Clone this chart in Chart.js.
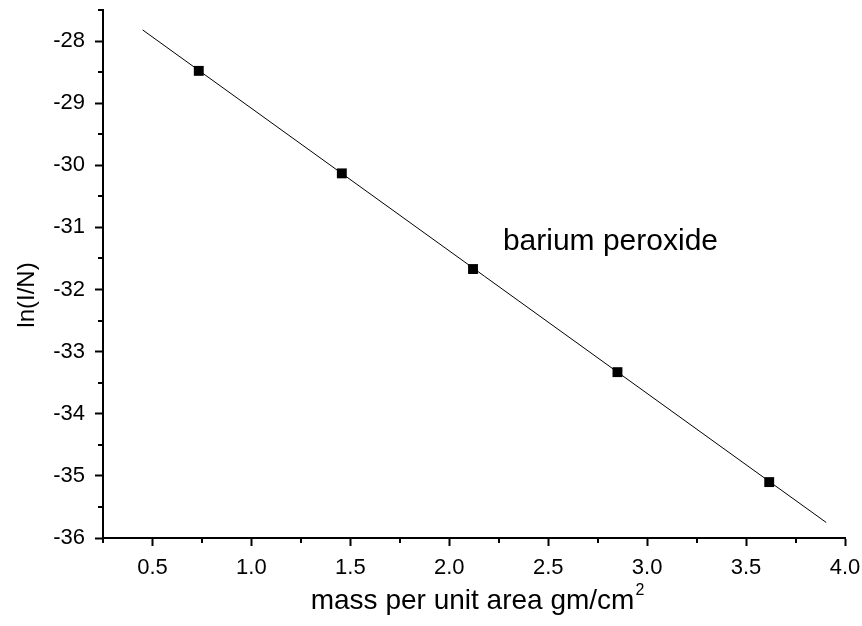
<!DOCTYPE html>
<html>
<head>
<meta charset="utf-8">
<script src="https://cdn.jsdelivr.net/npm/chart.js@4"></script>
<style>
  html, body { margin: 0; padding: 0; background: #fff; }
  canvas { display: block; }
</style>
</head>
<body>
<canvas id="chart" width="862" height="626"></canvas>
<script>
// Data
const massValues = [0.734, 1.457, 2.12, 2.85, 3.617];
const lnValues = [-28.48, -30.13, -31.67, -33.33, -35.10];
const fitX = [0.45, 3.905];
const fitY = [-27.82, -35.75];

// Ticks
const xTicks = [0.5, 1.0, 1.5, 2.0, 2.5, 3.0, 3.5, 4.0];
const xMinor = [0.25, 0.75, 1.25, 1.75, 2.25, 2.75, 3.25, 3.75];
const yTicks = [-36, -35, -34, -33, -32, -31, -30, -29, -28];
const yMinor = [-35.5, -34.5, -33.5, -32.5, -31.5, -30.5, -29.5, -28.5, -27.5];

const seriesLabel = 'barium peroxide';
const xTitle = 'mass per unit area gm/cm';
const yTitle = 'ln(I/N)';

const FONT = 'Liberation Sans, Arial, sans-serif';

// minor ticks, label and axis titles
const extras = {
    id: 'extras',
    afterDraw(chart) {
        const ctx = chart.ctx;
        const xs = chart.scales.x, ys = chart.scales.y;
        const area = chart.chartArea;
        ctx.save();
        ctx.strokeStyle = '#000';
        ctx.lineWidth = 2;
        ctx.beginPath();
        xMinor.forEach(v => {
            const px = Math.round(xs.getPixelForValue(v));
            ctx.moveTo(px, area.bottom);
            ctx.lineTo(px, area.bottom + 5);
        });
        yMinor.forEach(v => {
            const py = Math.round(ys.getPixelForValue(v));
            ctx.moveTo(area.left, py);
            ctx.lineTo(area.left - 5, py);
        });
        ctx.stroke();

        ctx.fillStyle = '#000';
        // series label
        ctx.font = '30px ' + FONT;
        ctx.textAlign = 'left';
        ctx.textBaseline = 'middle';
        ctx.fillText(seriesLabel, xs.getPixelForValue(2.271), ys.getPixelForValue(-31.23));

        // x title with superscript
        ctx.font = '28px ' + FONT;
        ctx.textBaseline = 'alphabetic';
        const w = ctx.measureText(xTitle).width;
        ctx.font = '16px ' + FONT;
        const w2 = ctx.measureText('2').width;
        const cx = (area.left + area.right) / 2 + 3;
        const startX = cx - (w + w2) / 2;
        ctx.font = '28px ' + FONT;
        ctx.fillText(xTitle, startX, 609);
        ctx.font = '16px ' + FONT;
        ctx.fillText('2', startX + w + 1, 595);

        // y title
        ctx.translate(27, 295);
        ctx.rotate(-Math.PI / 2);
        ctx.font = '24px ' + FONT;
        ctx.textAlign = 'center';
        ctx.textBaseline = 'middle';
        ctx.fillText(yTitle, 0, 0);
        ctx.restore();
    }
};

const ctx = document.getElementById('chart').getContext('2d');
new Chart(ctx, {
    type: 'scatter',
    data: {
        datasets: [
            {
                type: 'line',
                data: fitX.map((x, i) => ({ x: x, y: fitY[i] })),
                borderColor: '#000',
                borderWidth: 1,
                pointRadius: 0,
                fill: false,
                tension: 0,
                clip: false
            },
            {
                data: massValues.map((x, i) => ({ x: x, y: lnValues[i] })),
                pointStyle: 'rect',
                pointRadius: 7,
                backgroundColor: '#000',
                borderColor: '#000',
                borderWidth: 0
            }
        ]
    },
    plugins: [extras],
    options: {
        responsive: false,
        animation: false,
        layout: { padding: { left: 0, top: 10, right: 17, bottom: 0 } },
        plugins: {
            legend: { display: false },
            tooltip: { enabled: false }
        },
        scales: {
            x: {
                type: 'linear',
                min: 0.25,
                max: 4.0,
                afterBuildTicks: s => { s.ticks = xTicks.map(v => ({ value: v })); },
                afterFit: s => { s.height = 88; s.paddingLeft = 0; s.paddingRight = 0; },
                border: { display: true, color: '#000', width: 2 },
                grid: { drawOnChartArea: false, drawTicks: true, tickLength: 8, tickWidth: 2, tickColor: '#000' },
                ticks: {
                    color: '#000',
                    font: { family: FONT, size: 22 },
                    padding: 9,
                    maxRotation: 0,
                    callback: v => v.toFixed(1)
                }
            },
            y: {
                type: 'linear',
                min: -36,
                max: -27.5,
                afterBuildTicks: s => { s.ticks = yTicks.map(v => ({ value: v })); },
                afterFit: s => { s.width = 103; s.paddingTop = 0; s.paddingBottom = 0; },
                border: { display: true, color: '#000', width: 2 },
                grid: { drawOnChartArea: false, drawTicks: true, tickLength: 8, tickWidth: 2, tickColor: '#000' },
                ticks: {
                    color: '#000',
                    font: { family: FONT, size: 22 },
                    padding: 10,
                    callback: v => String(v)
                }
            }
        }
    }
});
</script>
</body>
</html>
